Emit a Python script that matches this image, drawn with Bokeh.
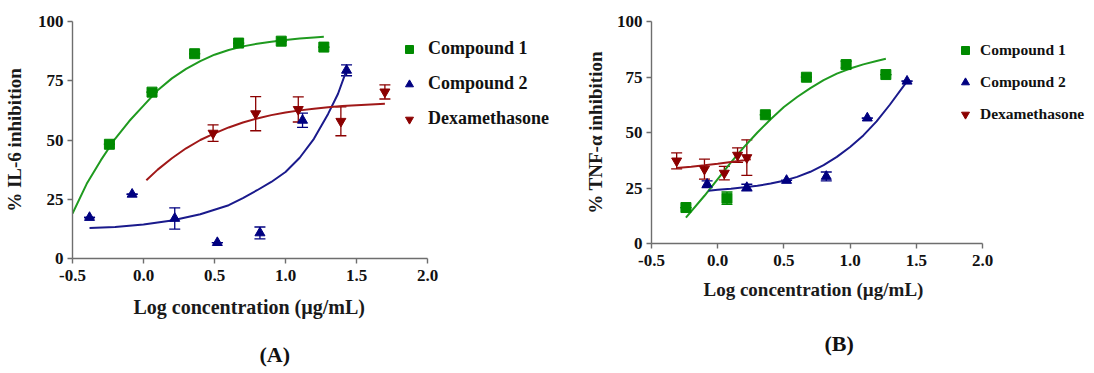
from bokeh.plotting import figure
from bokeh.models import (Range1d, FixedTicker, NumeralTickFormatter, Whisker, TeeHead,
                          ColumnDataSource, Legend, LegendItem, Title)
from bokeh.layouts import row
from bokeh.embed import file_html
from bokeh.resources import INLINE

# ---------------- Data: panel A (IL-6) ----------------
a_c1_x = [-0.24, 0.06, 0.36, 0.67, 0.97, 1.27]
a_c1_y = [48.2, 70.2, 86.4, 90.9, 91.7, 89.2]
a_c1_e = [0, 0, 0, 0, 0, 0]

a_c2_x = [-0.38, -0.08, 0.22, 0.52, 0.82, 1.12, 1.43]
a_c2_y = [17.3, 27.1, 16.9, 6.7, 10.8, 58.3, 79.4]
a_c2_e = [0, 0, 4.5, 0, 2.5, 3.0, 2.3]

a_dx_x = [0.49, 0.79, 1.09, 1.39, 1.70]
a_dx_y = [52.9, 61.1, 62.9, 57.9, 70.3]
a_dx_e = [3.5, 7.2, 5.3, 6.1, 3.0]

a_c1_fit_x = [-0.5, -0.4, -0.3, -0.2, -0.1, 0.0, 0.1, 0.2, 0.3, 0.4, 0.5, 0.6, 0.7, 0.8, 0.9, 1.0, 1.1, 1.2, 1.27]
a_c1_fit_y = [19, 31.5, 41.5, 50.5, 58, 64.5, 71, 76, 80, 83.3, 86, 88, 89.5, 90.6, 91.5, 92.2, 92.8, 93.3, 93.6]
a_c2_fit_x = [-0.38, -0.2, 0.0, 0.2, 0.4, 0.6, 0.7, 0.8, 0.9, 1.0, 1.1, 1.2, 1.3, 1.37, 1.43]
a_c2_fit_y = [12.9, 13.3, 14.3, 16.0, 18.7, 22.5, 25.5, 28.8, 32.3, 36.5, 42.5, 50.5, 61, 69.5, 79.5]
a_dx_fit_x = [0.02, 0.1, 0.2, 0.3, 0.4, 0.5, 0.6, 0.7, 0.8, 0.9, 1.0, 1.1, 1.2, 1.3, 1.4, 1.5, 1.6, 1.7]
a_dx_fit_y = [33, 37.5, 42.3, 46.5, 50, 52.8, 55.3, 57.4, 59.1, 60.5, 61.6, 62.5, 63.2, 63.8, 64.3, 64.7, 65.0, 65.3]

# ---------------- Data: panel B (TNF-alpha) ----------------
b_c1_x = [-0.24, 0.07, 0.36, 0.67, 0.97, 1.27]
b_c1_y = [16.2, 20.4, 58.0, 74.9, 80.6, 76.1]
b_c1_e = [0, 2.8, 0, 0, 1.5, 0]

b_c2_x = [-0.08, 0.22, 0.52, 0.82, 1.13, 1.43]
b_c2_y = [26.7, 25.2, 28.4, 30.2, 56.5, 73.1]
b_c2_e = [1.5, 1.5, 0, 2.0, 0, 0]

b_dx_x = [-0.31, -0.10, 0.05, 0.15, 0.22]
b_dx_y = [37.2, 33.5, 31.7, 39.8, 38.7]
b_dx_e = [3.6, 4.5, 3.0, 3.3, 8.0]

b_c1_fit_x = [-0.24, -0.1, 0.0, 0.1, 0.2, 0.3, 0.4, 0.5, 0.6, 0.7, 0.8, 0.9, 1.0, 1.1, 1.2, 1.27]
b_c1_fit_y = [11.7, 21.5, 29, 36.5, 43.5, 50, 56, 61.5, 66, 70, 73.6, 76.5, 78.8, 80.7, 82.2, 83.2]
b_c2_fit_x = [-0.07, 0.0, 0.1, 0.2, 0.3, 0.4, 0.5, 0.6, 0.7, 0.8, 0.9, 1.0, 1.1, 1.2, 1.3, 1.43]
b_c2_fit_y = [23.8, 24.2, 24.7, 25.3, 26.0, 27.0, 28.3, 30.0, 32.3, 35.3, 39, 43.5, 48.7, 55, 62.5, 73]
b_dx_fit_x = [-0.31, -0.2, -0.1, 0.0, 0.1, 0.2, 0.25]
b_dx_fit_y = [34.0, 34.6, 35.2, 35.9, 36.7, 37.5, 38.0]

x_ticks = [-0.5, 0.0, 0.5, 1.0, 1.5, 2.0]
y_ticks = [0, 25, 50, 75, 100]
series_names = ["Compound 1", "Compound 2", "Dexamethasone"]
x_label = "Log concentration (\u00b5g/mL)"

MARK = {"Compound 1": "#008a00", "Compound 2": "#000080", "Dexamethasone": "#8b0000"}
LINE = {"Compound 1": "#1f9a1f", "Compound 2": "#1a1a8c", "Dexamethasone": "#a01818"}
SHAPE = {"Compound 1": "square", "Compound 2": "triangle", "Dexamethasone": "inverted_triangle"}
FONT = "Liberation Serif"


def make_panel(ylabel, series, fits, axis_px, fw, fh, borders, ystand, legend_cfg, tag, xlab_cfg, tag_cfg):
    bl, bt, br, bb = borders
    # the frame is wider than the axis so that the legend fits on the right;
    # the axis itself is bounded to -0.5 .. 2.0
    x_end = -0.5 + fw * 2.5 / axis_px
    p = figure(frame_width=fw, frame_height=fh, output_backend="svg", toolbar_location=None,
               x_range=Range1d(-0.5, x_end), y_range=Range1d(0, 100),
               min_border_left=bl, min_border_top=bt, min_border_right=br, min_border_bottom=bb)
    p.outline_line_color = None
    p.grid.visible = False
    for ax in (p.xaxis[0], p.yaxis[0]):
        ax.axis_line_color = "#6e6e6e"
        ax.axis_line_width = 1.4
        ax.major_tick_line_color = "#6e6e6e"
        ax.major_tick_line_width = 1.4
        ax.major_tick_in = 0
        ax.major_tick_out = 5
        ax.minor_tick_line_color = None
        ax.major_label_text_font = FONT
        ax.major_label_text_font_style = "bold"
        ax.major_label_text_font_size = "17px"
        ax.major_label_text_color = "#111111"
        ax.axis_label_text_font = FONT
        ax.axis_label_text_font_style = "bold"
        ax.axis_label_text_color = "#1a1a1a"
    p.xaxis.bounds = (-0.5, 2.0)
    p.yaxis.bounds = (0, 100)
    p.xaxis.ticker = FixedTicker(ticks=x_ticks)
    p.yaxis.ticker = FixedTicker(ticks=y_ticks)
    p.xaxis.formatter = NumeralTickFormatter(format="0.0")
    p.yaxis.axis_label = ylabel
    p.yaxis.axis_label_text_font_size = "19px"
    p.xaxis.major_label_standoff = 6
    p.yaxis.major_label_standoff = 4
    p.yaxis.axis_label_standoff = ystand

    items = []
    for name in series_names:
        fx, fy = fits[name]
        p.line(fx, fy, line_color=LINE[name], line_width=2)
    for name in series_names:
        xs, ys, es = series[name]
        src = ColumnDataSource(dict(x=xs, y=ys,
                                    up=[y + e for y, e in zip(ys, es)],
                                    lo=[y - e for y, e in zip(ys, es)]))
        w = Whisker(base="x", upper="up", lower="lo", source=src,
                    line_color=MARK[name], line_width=1.3,
                    upper_head=TeeHead(size=11, line_color=MARK[name], line_width=1.3),
                    lower_head=TeeHead(size=11, line_color=MARK[name], line_width=1.3))
        p.add_layout(w)
        r = p.scatter("x", "y", source=src, marker=SHAPE[name], size=10,
                      fill_color=MARK[name], line_color=MARK[name])
        items.append(LegendItem(label=name, renderers=[r]))

    loc, spacing, standoff, fsize = legend_cfg
    leg = Legend(items=items, location=loc, spacing=spacing, label_standoff=standoff,
                 glyph_width=20, glyph_height=20, label_height=20, padding=0, margin=0,
                 border_line_color=None, background_fill_alpha=0,
                 label_text_font=FONT, label_text_font_style="bold",
                 label_text_font_size=fsize, label_text_color="#111111")
    p.add_layout(leg)

    # x-axis label, centred under the bounded axis (not the wider frame)
    xoff, xstand, xsize = xlab_cfg
    tx = Title(text=x_label, align="left", offset=xoff, standoff=xstand,
               text_font=FONT, text_font_style="bold", text_font_size=xsize,
               text_color="#1a1a1a")
    p.add_layout(tx, "below")

    offset, tstand = tag_cfg
    t = Title(text=tag, align="left", offset=offset, standoff=tstand,
              text_font=FONT, text_font_style="bold", text_font_size="22px",
              text_color="#111111")
    p.add_layout(t, "below")
    return p


pA = make_panel("% IL-6 inhibition",
                {"Compound 1": (a_c1_x, a_c1_y, a_c1_e),
                 "Compound 2": (a_c2_x, a_c2_y, a_c2_e),
                 "Dexamethasone": (a_dx_x, a_dx_y, a_dx_e)},
                {"Compound 1": (a_c1_fit_x, a_c1_fit_y),
                 "Compound 2": (a_c2_fit_x, a_c2_fit_y),
                 "Dexamethasone": (a_dx_fit_x, a_dx_fit_y)},
                355, 488, 237, (67, 19, 21, 107), 10, ((327, 129), 14, 9, "18px"),
                "(A)", (61, 21, "20px"), (187, 23))

pB = make_panel("% TNF-\u03b1 inhibition",
                {"Compound 1": (b_c1_x, b_c1_y, b_c1_e),
                 "Compound 2": (b_c2_x, b_c2_y, b_c2_e),
                 "Dexamethasone": (b_dx_x, b_dx_y, b_dx_e)},
                {"Compound 1": (b_c1_fit_x, b_c1_fit_y),
                 "Compound 2": (b_c2_fit_x, b_c2_fit_y),
                 "Dexamethasone": (b_dx_fit_x, b_dx_fit_y)},
                331, 436, 222, (66, 21, 0, 120), 8, ((304, 119), 12, 5, "15.5px"),
                "(B)", (52, 17, "19px"), (173, 41))

layout = row(pA, pB)
open("out.html", "w").write(file_html(layout, INLINE))
